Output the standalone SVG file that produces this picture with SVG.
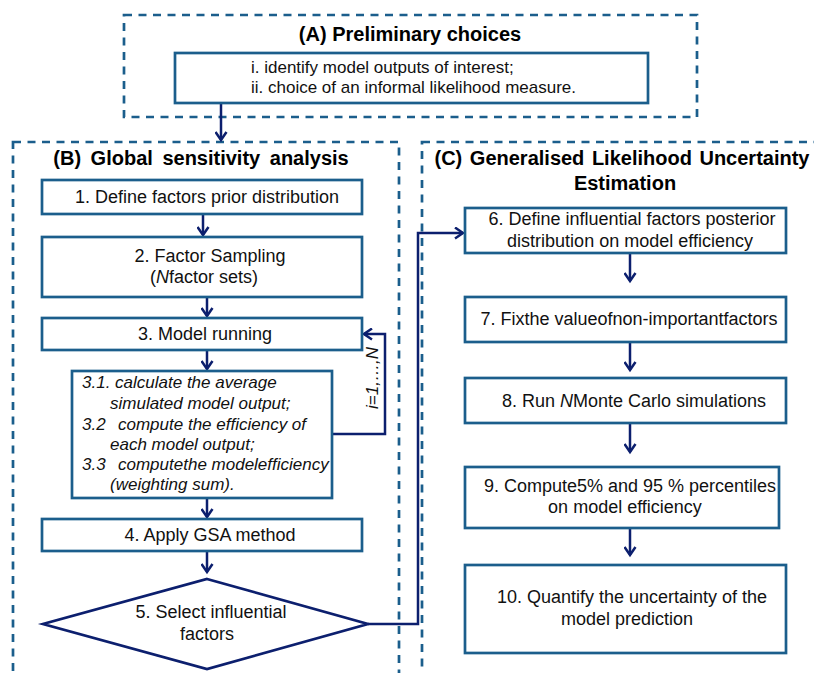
<svg xmlns="http://www.w3.org/2000/svg" width="814" height="673" viewBox="0 0 814 673">
<style>
.dash{fill:none;stroke:#1b5e8c;stroke-width:2.7;stroke-dasharray:8,6.5}
.box{fill:#fff;stroke:#1b5e8c;stroke-width:2.7}
.dia{fill:#fff;stroke:#0c1f6e;stroke-width:2.7;stroke-linejoin:miter}
.con{fill:none;stroke:#0c1f6e;stroke-width:2.5}
.t{font-family:"Liberation Sans",Arial,sans-serif;font-size:18px;fill:#111}
.ta{font-family:"Liberation Sans",Arial,sans-serif;font-size:17px;fill:#111}
.ti{font-family:"Liberation Sans",Arial,sans-serif;font-size:17px;font-style:italic;fill:#111}
.h{font-family:"Liberation Sans",Arial,sans-serif;font-size:20px;font-weight:bold;fill:#000}
.m{text-anchor:middle}
</style>
<defs>
<marker id="ah" markerWidth="12" markerHeight="13" refX="9.5" refY="6.5" orient="auto" markerUnits="userSpaceOnUse">
<path d="M1.5,1 L9.5,6.5 L1.5,12" fill="none" stroke="#0c1f6e" stroke-width="2.5"/>
</marker>
</defs>

<g id="groupA">
<rect class="dash" x="124" y="15" width="573" height="102"/>
<text class="h m" x="410" y="41">(A) Preliminary choices</text>
</g>
<g id="groupB">
<rect class="dash" x="13" y="142" width="386" height="560"/>
<text class="h m" x="201" y="165" word-spacing="4">(B) Global sensitivity analysis</text>
</g>
<g id="groupC">
<rect class="dash" x="422" y="142" width="420" height="560"/>
<text class="h m" x="622" y="165" word-spacing="2">(C) Generalised Likelihood Uncertainty</text>
<text class="h m" x="625" y="190">Estimation</text>
</g>

<g id="connectors">
<line class="con" x1="221" y1="103" x2="221" y2="140" marker-end="url(#ah)"/>
<line class="con" x1="203" y1="214" x2="203" y2="235" marker-end="url(#ah)"/>
<line class="con" x1="207" y1="297" x2="207" y2="316" marker-end="url(#ah)"/>
<line class="con" x1="207" y1="350" x2="207" y2="369" marker-end="url(#ah)"/>
<line class="con" x1="207" y1="498" x2="207" y2="517" marker-end="url(#ah)"/>
<line class="con" x1="207" y1="551" x2="207" y2="572" marker-end="url(#ah)"/>
<polyline class="con" points="332,434 385,434 385,334 364,334" marker-end="url(#ah)"/>
<polyline class="con" points="368,624 418,624 418,233 463,233" marker-end="url(#ah)"/>
<line class="con" x1="630" y1="253" x2="630" y2="281" marker-end="url(#ah)"/>
<line class="con" x1="630" y1="342" x2="630" y2="370" marker-end="url(#ah)"/>
<line class="con" x1="630" y1="423" x2="630" y2="452" marker-end="url(#ah)"/>
<line class="con" x1="630" y1="528" x2="630" y2="555" marker-end="url(#ah)"/>
<text class="ti" font-size="15" text-anchor="middle" transform="translate(378,378) rotate(-90)">i=1,…,N</text>
</g>

<g id="nodeA">
<rect class="box" x="175" y="53" width="473" height="50"/>
<text class="ta" x="251" y="73">i. identify model outputs of interest;</text>
<text class="ta" x="251" y="93">ii. choice of an informal likelihood measure.</text>
</g>

<g id="node1">
<rect class="box" x="42" y="180" width="320" height="34"/>
<text class="t m" x="207" y="203">1. Define factors prior distribution</text>
</g>
<g id="node2">
<rect class="box" x="42" y="237" width="320" height="60"/>
<text class="t m" x="210" y="262">2. Factor Sampling</text>
<text class="t m" x="204" y="283">(<tspan font-style="italic">N</tspan>factor sets)</text>
</g>
<g id="node3">
<rect class="box" x="42" y="318" width="320" height="32"/>
<text class="t m" x="205" y="340">3. Model running</text>
</g>
<g id="node3x">
<rect class="box" x="72" y="371" width="260" height="127"/>
<text class="ti" x="82" y="388">3.1. calculate the average</text>
<text class="ti" x="110" y="409">simulated model output;</text>
<text class="ti" y="430"><tspan x="82">3.2</tspan><tspan x="118">compute the efficiency  of</tspan></text>
<text class="ti" x="110" y="450">each model output;</text>
<text class="ti" y="470"><tspan x="82">3.3</tspan><tspan x="118">computethe modelefficiency</tspan></text>
<text class="ti" x="110" y="490">(weighting sum).</text>
</g>
<g id="node4">
<rect class="box" x="42" y="519" width="320" height="32"/>
<text class="t m" x="210" y="541">4. Apply GSA method</text>
</g>
<g id="node5">
<polygon class="dia" points="207,579 368,624 207,669 43,624"/>
<text class="t m" x="211" y="618">5. Select influential</text>
<text class="t m" x="207" y="640">factors</text>
</g>

<g id="node6">
<rect class="box" x="465" y="208" width="321" height="45"/>
<text class="t m" x="632" y="225">6. Define influential factors posterior</text>
<text class="t m" x="630" y="247">distribution on model efficiency</text>
</g>
<g id="node7">
<rect class="box" x="465" y="297" width="321" height="45"/>
<text class="t m" x="629" y="325">7. Fixthe valueofnon-importantfactors</text>
</g>
<g id="node8">
<rect class="box" x="465" y="378" width="321" height="45"/>
<text class="t m" x="634" y="407">8. Run <tspan font-style="italic">N</tspan>Monte Carlo simulations</text>
</g>
<g id="node9">
<rect class="box" x="465" y="467" width="314" height="61"/>
<text class="t m" x="630" y="492">9. Compute5% and 95 % percentiles</text>
<text class="t m" x="625" y="513">on model efficiency</text>
</g>
<g id="node10">
<rect class="box" x="465" y="565" width="321" height="88"/>
<text class="t m" x="632" y="603">10. Quantify the uncertainty of the</text>
<text class="t m" x="627" y="625">model prediction</text>
</g>
</svg>
